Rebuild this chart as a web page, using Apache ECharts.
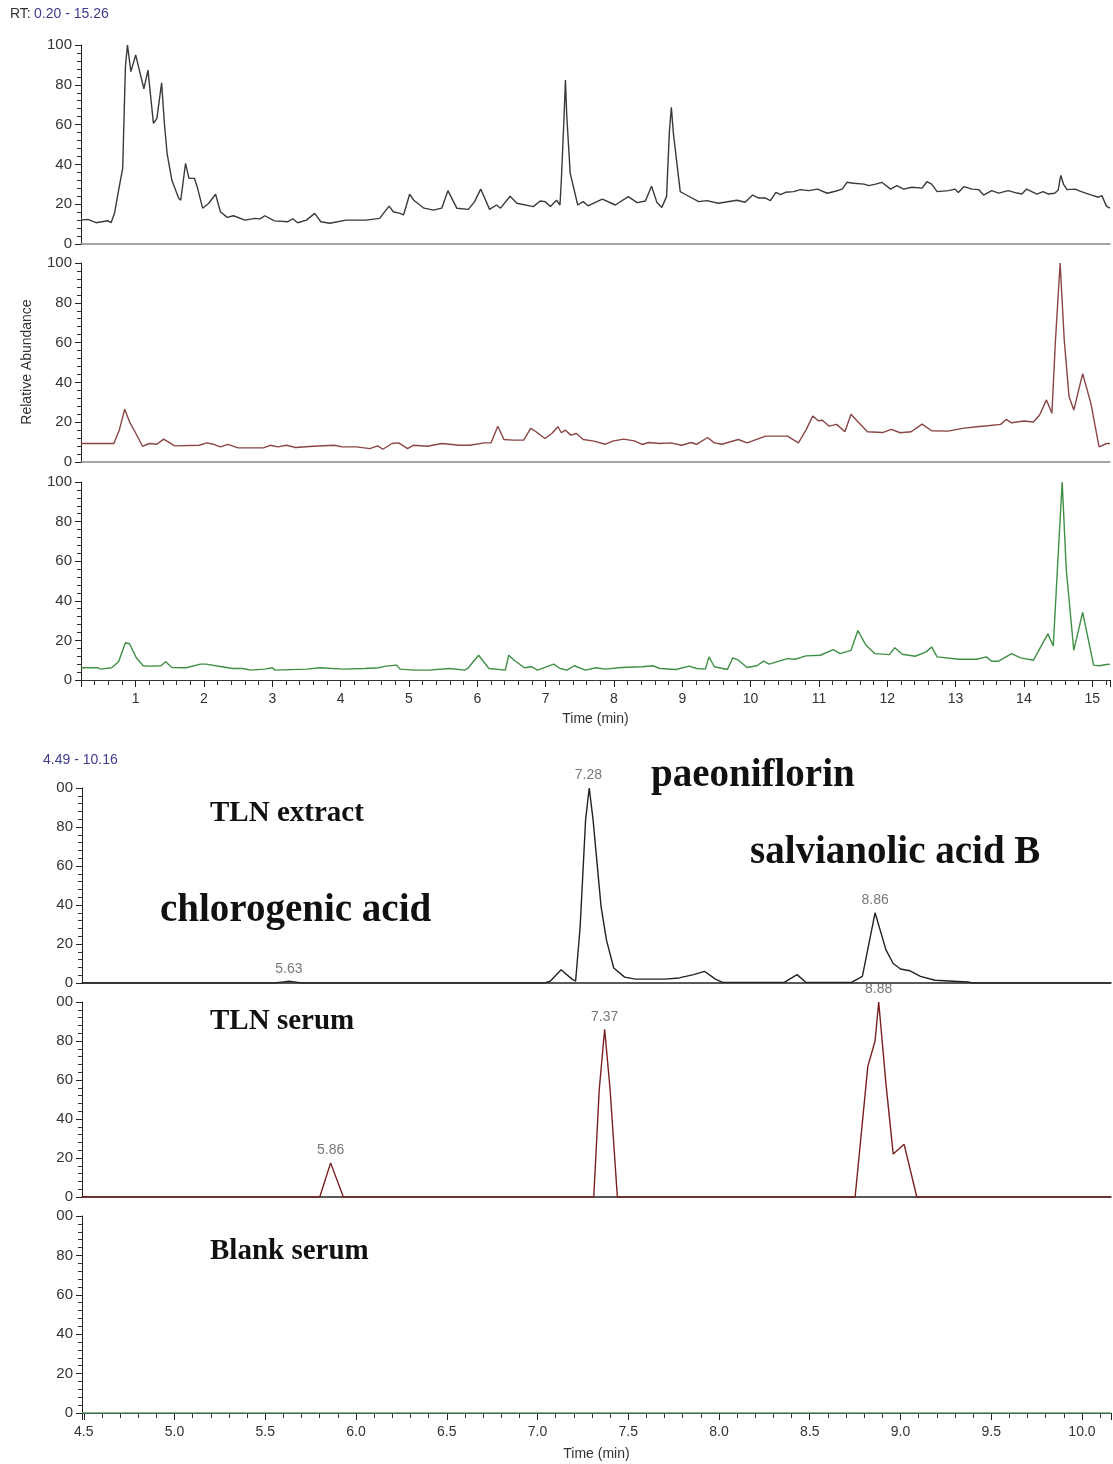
<!DOCTYPE html>
<html><head><meta charset="utf-8">
<script src="https://cdn.jsdelivr.net/npm/echarts@6.0.0/dist/echarts.min.js"></script>
<style>html,body{margin:0;padding:0;background:#fff}#c{width:1113px;height:1464px}</style>
</head><body><div id="c"></div>
<script>
// ---------- DATA ----------
const rangeTop = [0.20, 15.26];
const rangeBottom = [4.49, 10.16];
const yTicks = [0, 20, 40, 60, 80, 100];

// Top panel 1 (TIC, black)
const trace1 = [[0.20,12],[0.30,12.4],[0.42,10.7],[0.59,11.7],[0.64,10.7],[0.69,15.4],[0.76,28.8],[0.81,38],[0.85,89],[0.88,100],[0.93,86.6],[1.0,95],[1.12,78],[1.18,87.4],[1.26,60.7],[1.31,63],[1.38,81],[1.42,60.7],[1.46,45.6],[1.53,32],[1.63,23],[1.66,22],[1.73,40.5],[1.78,33],[1.86,33],[1.90,28.8],[1.98,18],[2.07,20.5],[2.17,25],[2.24,16.2],[2.34,13.4],[2.43,14.2],[2.60,12],[2.75,12.9],[2.82,12.6],[2.89,14.2],[3.03,11.6],[3.23,11.2],[3.30,12.7],[3.37,10.7],[3.50,12],[3.62,15.4],[3.71,11.2],[3.84,10.4],[4.08,12],[4.37,12],[4.57,12.9],[4.71,19],[4.77,16.2],[4.87,15.4],[4.92,14.6],[5.01,25],[5.07,22],[5.22,18],[5.36,17],[5.48,18],[5.57,26.8],[5.70,18],[5.87,17.4],[5.96,21.3],[6.05,27.6],[6.18,17.4],[6.28,19.6],[6.34,18],[6.48,24],[6.58,20.5],[6.82,18.8],[6.92,21.6],[6.99,21.3],[7.07,18.8],[7.16,22],[7.21,19.6],[7.23,32],[7.27,64],[7.29,82.4],[7.31,64],[7.36,35.5],[7.47,19.6],[7.55,21.3],[7.62,19.2],[7.83,22.6],[8.02,19.6],[8.21,23.8],[8.34,20.8],[8.46,21.6],[8.55,29],[8.63,20.8],[8.70,18.4],[8.77,23.8],[8.81,55.6],[8.84,68.7],[8.87,55.6],[8.97,26.3],[9.04,25],[9.24,21.3],[9.36,21.8],[9.53,20.5],[9.80,22],[9.92,21],[10.03,24.6],[10.12,23.1],[10.22,23.1],[10.29,21.8],[10.37,26],[10.44,24.8],[10.51,26],[10.63,26.3],[10.73,27.3],[10.85,26.8],[10.98,27.6],[11.12,25.5],[11.24,26.5],[11.34,27.6],[11.41,31],[11.51,30.5],[11.66,30.1],[11.73,29.3],[11.83,30.1],[11.92,31],[12.05,27.6],[12.14,29.3],[12.24,27.6],[12.36,28.5],[12.51,28.1],[12.58,31.3],[12.65,30.1],[12.73,26.3],[12.90,26.8],[12.99,27.6],[13.04,25.9],[13.12,28.8],[13.24,27.6],[13.34,27.3],[13.41,24.6],[13.53,26.8],[13.63,25.6],[13.77,26.8],[13.90,25.6],[13.97,25.1],[14.04,27.6],[14.19,25.1],[14.28,26.3],[14.36,25.1],[14.45,25.5],[14.50,27],[14.54,34.5],[14.58,30],[14.63,27.3],[14.75,27.6],[14.84,26.3],[14.99,24.6],[15.09,23.5],[15.14,24.3],[15.21,18.9],[15.26,18]];

// Top panel 2 (dark red)
const trace2 = [[0.20,9.3],[0.68,9.3],[0.76,16],[0.84,26.5],[0.91,20.2],[0.99,15.2],[1.10,7.9],[1.20,9.3],[1.31,8.9],[1.41,11.5],[1.57,8.1],[1.93,8.4],[2.04,9.6],[2.14,8.9],[2.24,7.6],[2.35,8.9],[2.50,7.1],[2.87,7.1],[2.97,8.4],[3.08,7.6],[3.21,8.4],[3.34,7.3],[3.60,7.9],[3.91,8.4],[4.02,7.6],[4.23,7.6],[4.43,6.7],[4.54,8.1],[4.62,6.4],[4.75,9.3],[4.85,9.6],[4.98,6.7],[5.06,8.4],[5.27,7.9],[5.48,9.3],[5.74,8.4],[5.89,8.4],[6.10,9.6],[6.20,9.6],[6.30,18],[6.39,11.3],[6.52,11],[6.68,11],[6.78,16.9],[6.86,15.2],[6.99,11.8],[7.09,14.3],[7.18,17.7],[7.23,14.7],[7.29,16],[7.37,13.5],[7.45,14.3],[7.55,11.3],[7.71,10.5],[7.87,8.9],[7.98,10.5],[8.14,11.5],[8.30,10.6],[8.41,8.8],[8.51,9.8],[8.67,9.3],[8.83,9.6],[8.99,8.4],[9.13,9.8],[9.21,8.9],[9.37,12.3],[9.47,9.6],[9.58,8.9],[9.82,11.3],[9.95,9.6],[10.22,13],[10.54,13],[10.70,9.6],[10.81,16],[10.91,23.1],[10.99,20.7],[11.05,21],[11.15,18],[11.26,18.9],[11.38,15.2],[11.47,24],[11.55,21],[11.71,15.2],[11.93,14.8],[12.06,16.4],[12.19,14.7],[12.35,15.2],[12.51,19],[12.65,15.7],[12.89,15.5],[13.10,16.9],[13.31,17.7],[13.47,18.2],[13.66,18.9],[13.74,21.4],[13.82,19.7],[14.00,20.6],[14.14,20.1],[14.23,23.6],[14.33,31.2],[14.41,24.5],[14.46,60],[14.53,100],[14.59,61.5],[14.66,32.9],[14.73,26.1],[14.86,44.4],[14.98,29.5],[15.10,7.6],[15.21,9.3],[15.26,9.3]];

// Top panel 3 (green)
const trace3 = [[0.20,6.2],[0.44,6.2],[0.49,5.5],[0.65,6.2],[0.75,9.2],[0.85,18.8],[0.91,18.3],[1.01,11.2],[1.11,7.2],[1.22,7],[1.37,7.2],[1.44,9.2],[1.53,6.3],[1.74,6.2],[1.95,8],[2.03,8],[2.26,6.7],[2.42,5.8],[2.57,5.8],[2.68,5],[2.89,5.5],[3.00,6.2],[3.04,5],[3.51,5.5],[3.70,6.2],[4.03,5.5],[4.35,5.8],[4.56,6.2],[4.66,7],[4.82,7.5],[4.87,5.5],[5.08,5],[5.29,5],[5.60,5.8],[5.81,5],[5.86,5.8],[6.02,12.5],[6.17,5.8],[6.41,5],[6.46,12.5],[6.54,10],[6.69,6.2],[6.80,6.7],[6.88,5],[7.12,8],[7.21,5.8],[7.31,5],[7.42,7.2],[7.58,5],[7.74,6.2],[7.87,5.5],[8.11,6.3],[8.41,6.7],[8.57,7.2],[8.67,5.8],[8.91,5.3],[9.10,7],[9.21,5.8],[9.34,5.5],[9.39,11.7],[9.47,6.7],[9.66,5.3],[9.74,11.2],[9.82,10],[9.95,6.3],[10.09,7.2],[10.19,9.5],[10.27,8],[10.54,10.8],[10.65,10.5],[10.81,12.2],[11.02,12.5],[11.21,15.3],[11.31,13.3],[11.47,15],[11.57,25],[11.69,17.5],[11.82,13.3],[12.03,12.8],[12.11,16.3],[12.22,13],[12.41,12],[12.57,14.2],[12.65,16.7],[12.73,11.7],[13.05,10.5],[13.31,10.5],[13.45,11.7],[13.53,9.5],[13.63,9.5],[13.82,13.3],[13.95,11.2],[14.14,10],[14.35,23.3],[14.43,17.2],[14.49,55.8],[14.56,100],[14.62,55.8],[14.73,15],[14.86,34.2],[15.02,7.5],[15.10,7.2],[15.21,7.8],[15.26,8]];

// Bottom panel: TLN extract
const extractTrace = [[4.49,0],[5.55,0],[5.60,0.6],[5.63,0.9],[5.66,0.6],[5.70,0],[7.04,0],[7.07,0.9],[7.13,6.8],[7.19,2],[7.21,1.0],[7.235,29],[7.265,83.8],[7.285,100],[7.306,83.8],[7.35,39.3],[7.38,22],[7.42,7.7],[7.48,3],[7.54,2],[7.70,2],[7.78,2.6],[7.86,4.3],[7.92,6],[7.98,2],[8.02,0.3],[8.36,0.3],[8.43,4.3],[8.48,0.3],[8.73,0.3],[8.79,3.4],[8.83,22],[8.86,36],[8.92,17],[8.96,10],[9.00,7.2],[9.05,6.3],[9.11,3.4],[9.19,1.4],[9.37,0.5],[9.40,0],[10.16,0]];
// Bottom panel: TLN serum
const serumTrace = [[4.49,0],[5.80,0],[5.86,17.5],[5.93,0],[7.31,0],[7.34,55],[7.37,86],[7.40,55],[7.44,0],[8.75,0],[8.82,67],[8.86,80],[8.88,100],[8.92,58],[8.96,22],[9.02,27],[9.09,0],[10.16,0]];
// Bottom panel: Blank serum
const blankTrace = [[4.49,0],[10.16,0]];

// Peak retention-time labels [time, value, text]
const extractPeaks = [[5.63,0.9,'5.63'],[7.28,100,'7.28'],[8.86,36,'8.86']];
const serumPeaks = [[5.86,17.5,'5.86'],[7.37,86,'7.37'],[8.88,100,'8.88']];

// ---------- LAYOUT ----------
const SANS = 'Liberation Sans, Arial, sans-serif';
const grids = [
  {left:81, right:3, top:45,  height:199},
  {left:81, right:3, top:263, height:199},
  {left:81, right:3, top:482, height:198},
  {left:82, right:2, top:788, height:195},
  {left:82, right:2, top:1002, height:195},
  {left:82, right:2, top:1216, height:197}
];

function yAxisCfg(i, bottomStyle){
  return {
    gridIndex:i, type:'value', min:yTicks[0], max:yTicks[yTicks.length-1], interval:20,
    axisLine:{show:true, lineStyle:{color:'#222', width:1}},
    axisTick:{show:true, length:6, lineStyle:{color:'#222'}},
    minorTick:{show:true, splitNumber:5, length:4, lineStyle:{color:'#333'}},
    splitLine:{show:false},
    axisLabel:{fontSize:15, color:'#333', fontFamily:SANS, margin:9,
      formatter: v => (bottomStyle && v===100) ? '00' : String(v)}
  };
}
function xAxisCfg(i, range, step, showLabels, lineColor, fmt, name){
  return {
    gridIndex:i, type:'value', min:range[0], max:range[1],
    minInterval:step, maxInterval:step,
    axisLine:{show:true, onZero:false, lineStyle:{color:lineColor, width:showLabels?1:1.5}},
    axisTick:{show:showLabels, length:7, lineStyle:{color:'#222'}},
    minorTick:{show:showLabels, splitNumber:5, length:5, lineStyle:{color:'#333'}},
    splitLine:{show:false},
    axisLabel:{show:showLabels, fontSize:14, color:'#333', fontFamily:SANS, margin:12,
      showMinLabel:false, showMaxLabel:false, formatter:fmt},
    name: name || '', nameLocation:'middle', nameGap:32,
    nameTextStyle:{fontSize:14, color:'#333', fontFamily:SANS}
  };
}
function lineSeries(i, data, color){
  return {type:'line', xAxisIndex:i, yAxisIndex:i, data:data, symbol:'none', silent:true,
    lineStyle:{color:color, width:1.4}, z:3};
}
function peakSeries(i, peaks){
  return {type:'scatter', xAxisIndex:i, yAxisIndex:i, silent:true, symbolSize:1,
    itemStyle:{color:'rgba(0,0,0,0)'},
    data: peaks.map(p => ({value:[p[0],p[1]], label:{formatter:p[2]}})),
    label:{show:true, position:'top', distance:5, fontSize:14, color:'#555', fontFamily:SANS}, z:5};
}

const intFmt = v => String(Math.round(v));
const halfFmt = v => v.toFixed(1);

const option = {
  animation:false,
  backgroundColor:'#fff',
  grid: grids,
  xAxis: [
    xAxisCfg(0, rangeTop, 1, false, '#888', intFmt),
    xAxisCfg(1, rangeTop, 1, false, '#888', intFmt),
    xAxisCfg(2, rangeTop, 1, true, '#333', intFmt, 'Time (min)'),
    xAxisCfg(3, rangeBottom, 0.5, false, '#222', halfFmt),
    xAxisCfg(4, rangeBottom, 0.5, false, '#222', halfFmt),
    Object.assign(xAxisCfg(5, rangeBottom, 0.5, true, '#333', halfFmt, 'Time (min)'), {nameGap:34})
  ],
  yAxis: [yAxisCfg(0,false), yAxisCfg(1,false), yAxisCfg(2,false), yAxisCfg(3,true), yAxisCfg(4,true), yAxisCfg(5,true)],
  series: [
    lineSeries(0, trace1, '#3a3a3a'),
    lineSeries(1, trace2, '#8a4545'),
    lineSeries(2, trace3, '#3f8f45'),
    lineSeries(3, extractTrace, '#222'),
    lineSeries(4, serumTrace, '#7a1f1f'),
    lineSeries(5, blankTrace, '#5a9a6a'),
    peakSeries(3, extractPeaks),
    peakSeries(4, serumPeaks)
  ],
  graphic: [
    {type:'text', x:10, y:14, style:{text:'{a|RT:} {b|0.20 - 15.26}', textVerticalAlign:'middle',
      rich:{a:{fontSize:14, fill:'#333', fontFamily:SANS}, b:{fontSize:14, fill:'#3d3d8f', fontFamily:SANS}}}},
    {type:'text', x:43, y:760, style:{text:'4.49 - 10.16', fontSize:14, fill:'#3d3d8f', fontFamily:SANS, textVerticalAlign:'middle'}},
    {type:'text', x:27, y:362, rotation:Math.PI/2, style:{text:'Relative Abundance', fontSize:14, fill:'#333', fontFamily:SANS, textAlign:'center', textVerticalAlign:'middle'}},
    {type:'text', x:210, y:814, style:{text:'TLN extract', font:'bold 29px "Liberation Serif"', fill:'#111', textVerticalAlign:'middle'}},
    {type:'text', x:651, y:776, style:{text:'paeoniflorin', font:'bold 39px "Liberation Serif"', fill:'#111', textVerticalAlign:'middle'}},
    {type:'text', x:750, y:853, style:{text:'salvianolic acid B', font:'bold 39px "Liberation Serif"', fill:'#111', textVerticalAlign:'middle'}},
    {type:'text', x:160, y:911, style:{text:'chlorogenic acid', font:'bold 39px "Liberation Serif"', fill:'#111', textVerticalAlign:'middle'}},
    {type:'text', x:210, y:1022, style:{text:'TLN serum', font:'bold 29px "Liberation Serif"', fill:'#111', textVerticalAlign:'middle'}},
    {type:'text', x:210, y:1252, style:{text:'Blank serum', font:'bold 29px "Liberation Serif"', fill:'#111', textVerticalAlign:'middle'}}
  ]
};
const chart = echarts.init(document.getElementById('c'), null, {renderer:'canvas'});
chart.setOption(option);
</script></body></html>
